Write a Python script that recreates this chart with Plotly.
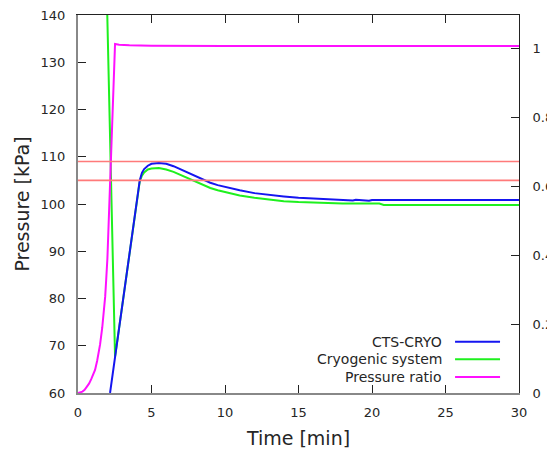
import plotly.graph_objects as go

# ---- data ----
cts_time = [2.18, 2.52, 3.0, 3.5, 4.0, 4.2, 4.35, 4.5, 4.75, 5.0, 5.5, 6.0, 6.5, 7.0, 7.5,
            8.0, 8.5, 9.0, 9.5, 10.0, 11.0, 12.0, 13.0, 14.0, 15.0, 16.0, 17.0, 18.0,
            18.5, 18.7, 18.9, 19.5, 19.8, 20.0, 22.0, 30.0]
cts_pressure = [60.0, 67.7, 78.5, 89.6, 100.8, 105.0, 106.6, 107.4, 108.1, 108.5, 108.7,
                108.5, 108.0, 107.3, 106.6, 105.8, 105.1, 104.5, 104.0, 103.6, 102.9,
                102.3, 101.9, 101.6, 101.3, 101.15, 101.0, 100.95, 100.9, 100.75, 100.9,
                100.85, 100.7, 100.85, 100.85, 100.85]

cryo_time = [1.97, 2.52, 3.0, 3.5, 4.0, 4.2, 4.35, 4.5, 4.75, 5.0, 5.5, 6.0, 6.5, 7.0, 7.5,
             8.0, 8.5, 9.0, 9.5, 10.0, 11.0, 12.0, 13.0, 14.0, 15.0, 16.0, 17.0, 18.0,
             20.5, 20.8, 30.0]
cryo_pressure = [143.0, 67.7, 78.3, 89.3, 100.3, 104.8, 106.0, 106.7, 107.3, 107.5, 107.6,
                 107.3, 106.8, 106.1, 105.4, 104.7, 104.0, 103.4, 102.9, 102.5, 101.8,
                 101.3, 100.9, 100.6, 100.4, 100.25, 100.15, 100.1, 100.1, 99.8, 99.8]

ratio_time = [0.0, 0.15, 0.3, 0.45, 0.6, 0.75, 0.9, 1.05, 1.16, 1.3, 1.4, 1.5, 1.65, 1.75,
              1.85, 1.92, 2.0, 2.52, 2.8, 3.5, 5.0, 10.0, 30.0]
ratio_value = [0.0, 0.001, 0.004, 0.009, 0.017, 0.027, 0.04, 0.055, 0.067, 0.093, 0.115,
               0.14, 0.19, 0.23, 0.28, 0.33, 0.39, 1.012, 1.010, 1.008, 1.007, 1.006, 1.006]

limit_levels = [105, 109]
x_range = [0, 30]
legend_names = ["CTS-CRYO", "Cryogenic system", "Pressure ratio"]
x_ticks = [0, 5, 10, 15, 20, 25, 30]
y_ticks = [60, 70, 80, 90, 100, 110, 120, 130, 140]
y2_ticks = [0, 0.2, 0.4, 0.6, 0.8, 1]
y2_ticklabels = ["0", "0.2", "0.4", "0.6", "0.8", "1"]

BLUE = "#1515f0"
GREEN = "#1ef01e"
MAGENTA = "#ff10ff"
RED = "#ff7a7a"
FONT = "DejaVu Sans"
TXT = "#262626"

fig = go.Figure()

for lvl in limit_levels:
    fig.add_trace(go.Scatter(x=x_range, y=[lvl, lvl], mode="lines", xaxis="x2", yaxis="y",
                             line=dict(color=RED, width=1.6), showlegend=False,
                             hoverinfo="skip"))

fig.add_trace(go.Scatter(x=ratio_time, y=ratio_value, mode="lines", yaxis="y2",
                         name=legend_names[2], line=dict(color=MAGENTA, width=2),
                         showlegend=False))
fig.add_trace(go.Scatter(x=cryo_time, y=cryo_pressure, mode="lines",
                         name=legend_names[1], line=dict(color=GREEN, width=2),
                         showlegend=False))
fig.add_trace(go.Scatter(x=cts_time, y=cts_pressure, mode="lines",
                         name=legend_names[0], line=dict(color=BLUE, width=2),
                         showlegend=False))

tickfont = dict(family=FONT, size=13, color=TXT)

# the page body adds an 8px offset, so the figure is sized to fit inside the window
fig.update_layout(
    width=547, height=442,
    margin=dict(l=70, r=36, t=7, b=57, autoexpand=False),
    paper_bgcolor="white", plot_bgcolor="white",
    xaxis=dict(range=x_range, tickvals=x_ticks, ticks="inside", ticklen=8, tickwidth=1,
               tickcolor="#222", showline=True, linecolor="#888", linewidth=2,
               showgrid=False, zeroline=False, tickfont=tickfont, ticklabelstandoff=6,
               ticklabeloverflow="allow",
               title=dict(text="Time [min]", font=dict(family=FONT, size=19, color=TXT),
                          standoff=13)),
    xaxis2=dict(range=x_range, overlaying="x", side="top", tickvals=x_ticks,
                ticks="inside", ticklen=8, tickwidth=1, tickcolor="#222",
                showticklabels=False, showline=True, linecolor="#222", linewidth=1,
                showgrid=False, zeroline=False),
    yaxis=dict(range=[60, 140], tickvals=y_ticks, ticks="inside", ticklen=8, tickwidth=1,
               tickcolor="#222", showline=True, linecolor="#888", linewidth=2,
               showgrid=False, zeroline=False, tickfont=tickfont, ticklabelstandoff=8,
               ticklabeloverflow="allow",
               title=dict(text="Pressure [kPa]", font=dict(family=FONT, size=19, color=TXT),
                          standoff=6)),
    yaxis2=dict(range=[0, 1.096], overlaying="y", side="right", tickvals=y2_ticks,
                ticktext=y2_ticklabels, ticks="inside", ticklen=8, tickwidth=1,
                tickcolor="#222", showline=True, linecolor="#222", linewidth=1,
                showgrid=False, zeroline=False, tickfont=tickfont, ticklabelstandoff=10,
                ticklabeloverflow="allow"),
    showlegend=False,
)

# gnuplot-style key: right-aligned text with line sample on the right
key_y = [0.1357, 0.0892, 0.0423]
key_colors = [BLUE, GREEN, MAGENTA]
for name, yk, col in zip(legend_names, key_y, key_colors):
    fig.add_annotation(x=0.8306, y=yk, xref="paper", yref="paper", text=name,
                       showarrow=False, xanchor="right", yanchor="middle",
                       font=dict(family=FONT, size=14, color=TXT))
    fig.add_shape(type="line", xref="paper", yref="paper", x0=0.855, x1=0.957,
                  y0=yk, y1=yk, line=dict(color=col, width=2))

fig.write_html("out.html")
